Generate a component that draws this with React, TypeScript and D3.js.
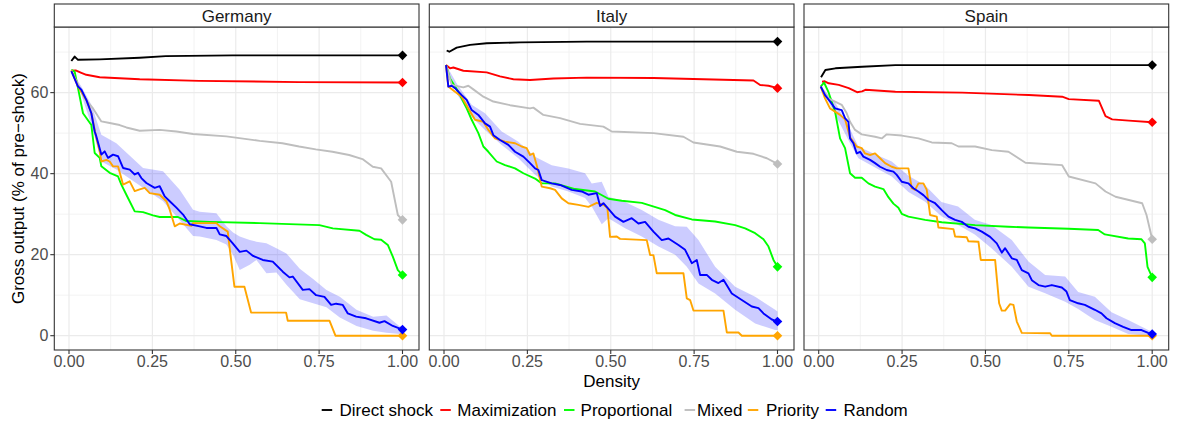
import * as d3 from 'd3'

// ── data (density, % of pre-shock output) ────────────────────────────────────
const COUNTRIES = ['Germany', 'Italy', 'Spain']
const SERIES    = ['Direct shock', 'Maximization', 'Proportional', 'Mixed', 'Priority', 'Random']
const COLORS    = ['#000000', '#FF0000', '#00FF00', '#BEBEBE', '#FFA500', '#0000FF']
const X_TICKS   = [0, 0.25, 0.5, 0.75, 1]
const X_MINOR   = [0.125, 0.375, 0.625, 0.875]
const Y_TICKS   = [0, 20, 40, 60]
const Y_MINOR   = [10, 30, 50, 70]

type P = [number, number]
type B = [number, number, number]

const DE_DIRECT: P[] = [[0.007,67.8],[0.017,68.9],[0.027,68.1],[0.092,68.2],[0.212,68.6],[0.29,69.0],[0.49,69.2],[1,69.2]]
const DE_MAX: P[] = [[0.007,65.4],[0.02,65.5],[0.037,64.9],[0.052,64.4],[0.092,63.8],[0.212,63.3],[0.39,62.9],[0.69,62.6],[1,62.5]]
const DE_PROP: P[] = [[0.007,65.6],[0.017,65.2],[0.027,61.1],[0.042,54.9],[0.067,52],[0.077,45.1],[0.092,43.9],[0.097,41.8],[0.122,40.2],[0.147,39.3],[0.157,37.3],[0.172,34.8],[0.197,30.7],[0.222,30.5],[0.252,29.7],[0.272,29.3],[0.327,29.3],[0.352,28.3],[0.422,28.1],[0.572,27.8],[0.751,27.3],[0.791,26.5],[0.871,25.9],[0.891,24.9],[0.916,23.8],[0.936,23.7],[0.956,22.4],[0.971,19.5],[0.986,16.2],[1,15.0]]
const DE_MIXED: P[] = [[0.007,65.5],[0.047,58.6],[0.072,56.1],[0.097,52.9],[0.122,52.5],[0.152,52],[0.172,51.4],[0.212,50.6],[0.272,50.8],[0.322,50.4],[0.372,49.8],[0.472,49.2],[0.572,48.1],[0.64,47.5],[0.69,46.7],[0.74,46],[0.79,45.4],[0.84,44.6],[0.88,43.6],[0.911,41.7],[0.936,41.3],[0.966,38],[0.986,29.8],[1,28.6]]
const DE_PRIO: P[] = [[0.007,65.5],[0.027,61.5],[0.052,58.2],[0.067,54.9],[0.082,48.8],[0.092,45.5],[0.097,43.0],[0.112,43.4],[0.122,43.0],[0.132,41.8],[0.147,41.8],[0.162,37.3],[0.182,38.1],[0.197,35.7],[0.212,36.1],[0.227,36.5],[0.242,35.2],[0.272,34.8],[0.292,33.2],[0.302,31.1],[0.317,27.0],[0.332,27.7],[0.367,27.1],[0.372,27.8],[0.442,27.8],[0.452,27.0],[0.476,25.7],[0.48,22.8],[0.496,12.1],[0.526,12.1],[0.546,5.7],[0.651,5.7],[0.656,3.7],[0.781,3.7],[0.799,0],[1,0]]
const DE_RAND: P[] = [[0.007,65.3],[0.027,61.5],[0.037,60.7],[0.052,58.2],[0.067,54.9],[0.077,50.4],[0.082,49.2],[0.097,44.7],[0.107,45.5],[0.117,43.9],[0.132,44.7],[0.147,44.3],[0.162,41.4],[0.182,41.0],[0.197,39.8],[0.207,40.2],[0.217,38.9],[0.232,37.7],[0.257,36.5],[0.272,36.9],[0.287,34.4],[0.302,33.2],[0.322,31.6],[0.342,29.9],[0.362,27.5],[0.392,27.0],[0.412,26.6],[0.442,26.6],[0.452,25.0],[0.472,24.6],[0.491,22.8],[0.512,20.7],[0.532,21.0],[0.552,19.7],[0.581,18.7],[0.611,18.3],[0.641,15.8],[0.661,14.4],[0.671,14.6],[0.701,11.3],[0.721,11.5],[0.741,10.0],[0.766,9.6],[0.786,7.6],[0.801,7.9],[0.821,7.6],[0.836,5.5],[0.861,4.7],[0.891,4.3],[0.931,3.2],[0.946,3.6],[0.971,2.4],[1,1.5]]
const DE_BAND: B[] = [[0.007,65.3,65.6],[0.037,59.5,61.5],[0.067,52,57],[0.097,43,49.6],[0.142,41,47.5],[0.222,36.5,41.4],[0.282,33.2,40.6],[0.332,28.5,36],[0.372,24.6,31.1],[0.392,24.5,30.6],[0.442,23.6,30.2],[0.472,22.5,27.0],[0.492,19.9,25.5],[0.512,16.2,24.5],[0.542,17.5,23.6],[0.562,18.7,23.2],[0.592,15.4,22.8],[0.622,15.6,21.6],[0.652,12.6,20.3],[0.692,9.0,16.5],[0.732,8.0,14.0],[0.772,7.0,11.3],[0.812,4.5,9.6],[0.862,2.4,6.4],[0.912,1.2,4.7],[0.952,0.7,5.0],[0.992,0.4,2.3],[1,0.4,2.4]]

const IT_DIRECT: P[] = [[0.008,70.4],[0.016,70.1],[0.038,71.1],[0.078,71.8],[0.128,72.2],[0.228,72.4],[0.428,72.6],[1,72.6]]
const IT_MAX: P[] = [[0.006,66.8],[0.018,66.0],[0.028,66.2],[0.058,65.4],[0.128,65.0],[0.168,64.0],[0.208,63.3],[0.258,63.1],[0.328,63.5],[0.428,63.7],[0.628,63.6],[0.778,63.3],[0.928,63.0],[0.948,61.9],[0.973,61.7],[1,61.1]]
const IT_PROP: P[] = [[0.006,66.8],[0.018,63.5],[0.043,60.2],[0.068,56.1],[0.083,53.3],[0.103,50.0],[0.118,46.7],[0.133,45.4],[0.158,43.0],[0.183,42.1],[0.213,41.3],[0.238,40.1],[0.273,38.8],[0.293,37.6],[0.333,37.6],[0.393,36.2],[0.453,35.6],[0.493,33.8],[0.533,33.3],[0.593,32.8],[0.663,31.0],[0.693,29.8],[0.743,28.7],[0.813,28.2],[0.873,27.3],[0.903,26.5],[0.933,25.3],[0.958,23.8],[0.973,22.0],[0.988,18.7],[1,17.0]]
const IT_MIXED: P[] = [[0.006,66.8],[0.023,61.9],[0.058,61.3],[0.073,61.7],[0.088,60.8],[0.118,59.0],[0.148,57.8],[0.198,56.9],[0.258,56.1],[0.268,56.3],[0.298,54.5],[0.348,53.7],[0.408,52.3],[0.478,51.6],[0.503,50.4],[0.628,50.0],[0.718,49.1],[0.748,47.7],[0.828,46.7],[0.878,45.4],[0.928,44.9],[0.968,43.8],[1,42.4]]
const IT_PRIO: P[] = [[0.006,66.8],[0.013,61.5],[0.033,60.2],[0.053,59.0],[0.073,56.1],[0.093,53.3],[0.118,52.8],[0.133,50.8],[0.153,48.7],[0.183,47.9],[0.213,47.5],[0.233,46.7],[0.248,46.3],[0.258,44.6],[0.268,45.0],[0.278,42.1],[0.293,36.8],[0.318,36.4],[0.333,36.0],[0.353,33.9],[0.373,32.7],[0.403,32.3],[0.433,31.8],[0.458,32.8],[0.478,32.3],[0.49,31.5],[0.498,24.4],[0.518,24.5],[0.528,23.9],[0.608,23.6],[0.618,19.9],[0.628,19.9],[0.638,15.4],[0.718,15.4],[0.728,9.2],[0.738,8.8],[0.748,6.2],[0.838,6.2],[0.848,0.8],[0.883,0.8],[0.893,0],[1,0]]
const IT_RAND: P[] = [[0.006,66.8],[0.013,61.5],[0.023,61.7],[0.033,61.1],[0.053,59.4],[0.068,58.2],[0.083,55.7],[0.103,54.5],[0.123,52.4],[0.138,51.6],[0.148,49.5],[0.168,48.3],[0.193,47.1],[0.213,45.4],[0.238,44.2],[0.258,42.6],[0.273,41.3],[0.283,40.9],[0.293,38.4],[0.323,37.6],[0.348,37.2],[0.383,36.0],[0.413,35.6],[0.433,34.8],[0.458,35.2],[0.468,32.0],[0.478,32.7],[0.493,31.3],[0.513,29.4],[0.538,28.1],[0.563,29.0],[0.583,27.7],[0.603,28.1],[0.628,25.7],[0.653,23.6],[0.673,24.0],[0.703,22.4],[0.723,21.2],[0.743,17.9],[0.758,18.7],[0.768,15.0],[0.788,15.0],[0.803,13.8],[0.823,13.0],[0.838,13.8],[0.863,10.4],[0.893,8.8],[0.923,7.2],[0.943,6.8],[0.958,5.5],[0.983,4.0],[1,3.5]]
const IT_BAND: B[] = [[0.006,66.7,66.9],[0.04,59.5,62],[0.083,54,57],[0.123,50.8,54.9],[0.173,47.1,50.4],[0.223,43.8,47.9],[0.273,39.7,44.2],[0.323,36.8,42.1],[0.373,35.6,41.3],[0.423,34.0,40.1],[0.443,31.9,37.6],[0.473,27.5,38.0],[0.493,29.0,34.3],[0.543,26.5,33],[0.593,24.5,31.0],[0.643,22.0,28.6],[0.693,20.0,27.0],[0.728,17,26.9],[0.763,12.9,23.6],[0.813,10.4,17.0],[0.873,6.4,12.1],[0.933,3.0,9.6],[0.993,1.4,6.4],[1,1.4,6.0]]

const ES_DIRECT: P[] = [[0.007,63.8],[0.02,65.6],[0.05,66.0],[0.13,66.4],[0.23,66.8],[1,66.8]]
const ES_MAX: P[] = [[0.01,62.7],[0.018,62.8],[0.03,62.3],[0.06,61.9],[0.09,61.1],[0.115,60.1],[0.13,60.3],[0.14,60.7],[0.23,60.2],[0.43,60.0],[0.63,59.4],[0.73,59.0],[0.75,58.4],[0.84,58.0],[0.86,54.2],[0.88,53.4],[0.93,53.1],[1,52.7]]
const ES_PROP: P[] = [[0.006,61.5],[0.016,62.5],[0.029,60.2],[0.049,55.3],[0.064,48.7],[0.079,46.3],[0.094,40.1],[0.109,39.0],[0.129,39.0],[0.149,37.6],[0.169,36.8],[0.194,36.2],[0.209,34.2],[0.224,32.6],[0.239,31.6],[0.249,30.1],[0.269,29.4],[0.319,28.6],[0.369,28.0],[0.469,27.3],[0.569,26.9],[0.629,26.7],[0.749,26.4],[0.838,26.1],[0.858,25.0],[0.928,24.0],[0.968,23.8],[0.978,22.8],[0.986,17.0],[1,14.4]]
const ES_MIXED: P[] = [[0.006,61.5],[0.029,58.6],[0.049,57.8],[0.069,57.0],[0.084,54.9],[0.094,52.8],[0.109,50.8],[0.129,49.7],[0.169,49.1],[0.189,48.7],[0.204,49.7],[0.249,49.4],[0.299,48.7],[0.339,47.7],[0.399,47.5],[0.419,46.7],[0.469,46.7],[0.519,45.8],[0.569,45.4],[0.62,42.7],[0.73,42.1],[0.75,39.3],[0.83,37.6],[0.86,35.6],[0.89,34.3],[0.97,32.7],[0.983,29.8],[1,23.8]]
const ES_PRIO: P[] = [[0.006,61.5],[0.019,58.6],[0.034,56.1],[0.049,55.3],[0.064,54.5],[0.079,53.4],[0.094,49],[0.114,46.7],[0.129,46.3],[0.139,45.0],[0.154,44.6],[0.169,45.0],[0.184,43.8],[0.199,42.6],[0.219,41.7],[0.234,41.3],[0.269,41.3],[0.279,36.4],[0.289,36.0],[0.299,37.6],[0.314,37.6],[0.324,36.0],[0.334,29.8],[0.354,29.4],[0.359,26.7],[0.404,26.3],[0.409,24.5],[0.444,24.3],[0.449,23.3],[0.479,23.2],[0.486,18.7],[0.529,18.7],[0.541,8.0],[0.549,6.2],[0.559,6.2],[0.574,7.8],[0.584,7.6],[0.594,3.5],[0.609,0.7],[0.694,0.6],[0.699,0],[1,0]]
const ES_RAND: P[] = [[0.006,61.5],[0.019,59.4],[0.034,57.8],[0.049,56.1],[0.069,55.7],[0.079,53.7],[0.089,52.8],[0.094,48.7],[0.104,47.5],[0.114,45.0],[0.124,45.4],[0.134,44.2],[0.154,43.4],[0.169,42.6],[0.184,41.7],[0.204,40.9],[0.224,40.5],[0.234,39.7],[0.249,38.0],[0.269,37.6],[0.284,36.4],[0.299,35.6],[0.314,34.7],[0.329,33.5],[0.349,32.7],[0.369,31.0],[0.389,29.4],[0.409,28.6],[0.429,28.1],[0.449,26.9],[0.469,26.5],[0.489,25.7],[0.514,24.4],[0.534,22.8],[0.549,20.5],[0.559,21.6],[0.579,19.1],[0.594,18.7],[0.609,16.2],[0.629,15.4],[0.639,13.7],[0.659,12.5],[0.679,12.1],[0.699,12.5],[0.729,11.9],[0.743,10.9],[0.753,8.8],[0.778,8.0],[0.798,7.6],[0.828,6.4],[0.848,5.5],[0.863,4.3],[0.888,3.1],[0.913,2.2],[0.938,1.4],[0.968,1.4],[0.988,0.7],[1,0.4]]
const ES_BAND: B[] = [[0.006,61.4,61.6],[0.05,54.5,57.5],[0.094,47.5,51],[0.119,43.8,46.7],[0.169,41.5,44.8],[0.219,39.3,43.0],[0.269,35.5,39.5],[0.318,33.1,37.2],[0.368,29.5,33.0],[0.418,27.3,31.9],[0.468,25,28.6],[0.518,21.6,27.3],[0.579,17.0,23.6],[0.629,12.1,18.3],[0.679,10.5,15.0],[0.739,8.4,14.6],[0.778,6.6,10.8],[0.828,3.9,9.6],[0.878,2.2,5.8],[0.928,0.4,3.9],[0.988,0.0,1.4],[1,0,1.0]]

const PANELS = [
  { name: COUNTRIES[0], lines: [DE_DIRECT, DE_MAX, DE_PROP, DE_MIXED, DE_PRIO, DE_RAND], band: DE_BAND },
  { name: COUNTRIES[1], lines: [IT_DIRECT, IT_MAX, IT_PROP, IT_MIXED, IT_PRIO, IT_RAND], band: IT_BAND },
  { name: COUNTRIES[2], lines: [ES_DIRECT, ES_MAX, ES_PROP, ES_MIXED, ES_PRIO, ES_RAND], band: ES_BAND },
]

// ── layout ───────────────────────────────────────────────────────────────────
const W = 1177, H = 426
const PX0    = [54.3, 429.3, 804]
const PW     = 364.7
const TOP    = 27
const PH     = 323
const STRIP  = 23
const FONT   = '"Liberation Sans", Arial, sans-serif'
const GRID   = '#ebebeb'
const BORDER = '#333333'
const LEG_KEY  = [321.7, 440.3, 564, 684.6, 747.8, 825.7]
const LEG_TEXT = [339.5, 457.3, 580.6, 697, 766, 843.5]

const x = d3.scaleLinear().domain([-0.0441, 1.0495]).range([0, PW])
const y = d3.scaleLinear().domain([-3.53, 76.2]).range([PH, 0])

const line = d3.line<P>().x(d => x(d[0])).y(d => y(d[1]))
const area = d3.area<B>().x(d => x(d[0])).y0(d => y(d[1])).y1(d => y(d[2]))

function diamond(cx: number, cy: number, r = 4.8) {
  return `M${cx},${cy - r}L${cx + r},${cy}L${cx},${cy + r}L${cx - r},${cy}Z`
}

function Panel({ p, i }: { p: typeof PANELS[0]; i: number }) {
  const x0 = PX0[i]
  return (
    <g transform={`translate(${x0},${TOP})`}>
      {/* grid */}
      {Y_MINOR.map(v => <line key={'ym' + v} x1={0} x2={PW} y1={y(v)} y2={y(v)} stroke="#f2f2f2" strokeWidth={0.9} />)}
      {X_MINOR.map(v => <line key={'xm' + v} x1={x(v)} x2={x(v)} y1={0} y2={PH} stroke="#f2f2f2" strokeWidth={0.9} />)}
      {Y_TICKS.map(v => <line key={'y' + v} x1={0} x2={PW} y1={y(v)} y2={y(v)} stroke={GRID} strokeWidth={1.2} />)}
      {X_TICKS.map(v => <line key={'x' + v} x1={x(v)} x2={x(v)} y1={0} y2={PH} stroke={GRID} strokeWidth={1.2} />)}

      {/* random ribbon */}
      <path d={area(p.band) ?? ''} fill="#0000FF" fillOpacity={0.2} />

      {p.lines.map((s, k) => (
        <path key={k} d={line(s) ?? ''} fill="none" stroke={COLORS[k]} strokeWidth={1.9} strokeLinejoin="round" />
      ))}
      {p.lines.map((s, k) => {
        const last = s[s.length - 1]
        return <path key={'pt' + k} d={diamond(x(last[0]), y(last[1]))} fill={COLORS[k]} />
      })}

      {/* panel border */}
      <rect x={0} y={0} width={PW} height={PH} fill="none" stroke={BORDER} strokeWidth={1.1} />

      {/* strip */}
      <rect x={0} y={-STRIP} width={PW} height={STRIP} fill="#ffffff" stroke={BORDER} strokeWidth={1.1} />
      <text x={PW / 2} y={-STRIP / 2} dy="0.36em" textAnchor="middle" fontSize={17} fill="#1a1a1a">{p.name}</text>

      {/* x axis */}
      {X_TICKS.map(v => (
        <g key={'xt' + v}>
          <line x1={x(v)} x2={x(v)} y1={PH} y2={PH + 4} stroke={BORDER} strokeWidth={1.1} />
          <text x={x(v)} y={PH + 6} dy="0.71em" textAnchor="middle" fontSize={16} fill="#4d4d4d">{v.toFixed(2)}</text>
        </g>
      ))}
      {/* y axis only on first panel */}
      {i === 0 && Y_TICKS.map(v => (
        <g key={'yt' + v}>
          <line x1={-4} x2={0} y1={y(v)} y2={y(v)} stroke={BORDER} strokeWidth={1.1} />
          <text x={-6} y={y(v)} dy="0.36em" textAnchor="end" fontSize={16} fill="#4d4d4d">{v}</text>
        </g>
      ))}
    </g>
  )
}

export default function App() {
  return (
    <svg width={W} height={H} style={{ position: 'absolute', left: 0, top: 0, background: '#fff' }} fontFamily={FONT}>
      <rect width={W} height={H} fill="#fff" />
      {PANELS.map((p, i) => <Panel key={p.name} p={p} i={i} />)}

      <text transform={`translate(18,${TOP + PH / 2}) rotate(-90)`} dy="0.36em" textAnchor="middle" fontSize={17} fill="#000">
        Gross output (% of pre−shock)
      </text>
      <text x={PX0[1] + PW / 2} y={381} dy="0.36em" textAnchor="middle" fontSize={17} fill="#000">Density</text>

      {/* legend */}
      {SERIES.map((s, k) => (
        <g key={s}>
          <line x1={LEG_KEY[k]} x2={LEG_KEY[k] + 10.5} y1={410} y2={410} stroke={COLORS[k]} strokeWidth={1.9} />
          <text x={LEG_TEXT[k]} y={410} dy="0.36em" fontSize={17} fill="#000">{s}</text>
        </g>
      ))}
    </svg>
  )
}
